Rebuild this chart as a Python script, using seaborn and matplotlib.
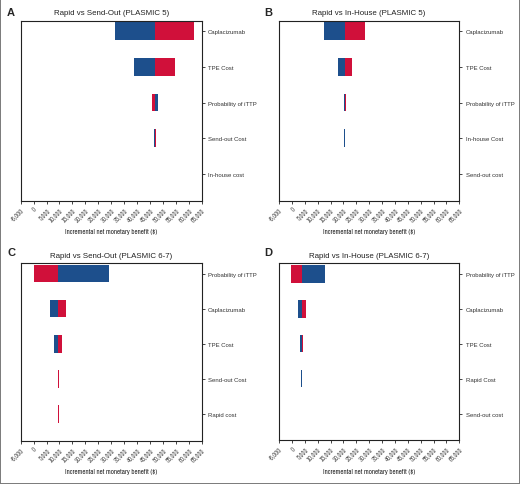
import matplotlib
matplotlib.use("Agg")
import matplotlib.pyplot as plt
import seaborn as sns
import pandas as pd
from matplotlib.patches import Rectangle

sns.set_style("white")
plt.rcParams['font.family'] = ['Liberation Sans', 'DejaVu Sans']
NARROW = ['Archivo Narrow', 'Roboto Condensed', 'Liberation Sans', 'DejaVu Sans']

BLUE = "#1d4f8c"
RED = "#d0103a"

xticks = list(range(-5000, 65001, 5000))
xtick_labels = [f"{v:,}" for v in xticks]
xlabel = "Incremental net monetary benefit ($)"

a_title = "Rapid vs Send-Out (PLASMIC 5)"
a_cats = ["Caplacizumab", "TPE Cost", "Probability of iTTP", "Send-out Cost", "In-house cost"]
a_base = 47000
a_blue = [31500, 39000, 48000, 46700, 47000]
a_red = [62200, 54800, 45600, 47300, 47000]

b_title = "Rapid vs In-House (PLASMIC 5)"
b_cats = ["Caplacizumab", "TPE Cost", "Probability of iTTP", "In-house Cost", "Send-out cost"]
b_base = 20500
b_blue = [12600, 17900, 20100, 20300, 20500]
b_red = [28400, 23200, 21100, 20700, 20500]

c_title = "Rapid vs Send-Out (PLASMIC 6-7)"
c_cats = ["Probability of iTTP", "Caplacizumab", "TPE Cost", "Send-out Cost", "Rapid cost"]
c_base = 9600
c_blue = [29300, 6300, 7800, 9400, 9400]
c_red = [0, 12650, 11100, 9800, 9800]

d_title = "Rapid vs In-House (PLASMIC 6-7)"
d_cats = ["Probability of iTTP", "Caplacizumab", "TPE Cost", "Rapid Cost", "Send-out cost"]
d_base = 3900
d_blue = [12900, 2250, 3300, 3700, 3900]
d_red = [-500, 5500, 4450, 4100, 3900]

fig = plt.figure(figsize=(5.2, 4.85), dpi=100)

W, H = 520.0, 485.0
def axes_px(x0, y0, x1, y1):
    return fig.add_axes([x0 / W, 1 - y1 / H, (x1 - x0) / W, (y1 - y0) / H])

panels = [
    ("A", a_title, a_cats, a_base, a_blue, a_red, (20.7, 21.7, 201.7, 201.7), (7, 13)),
    ("B", b_title, b_cats, b_base, b_blue, b_red, (279.0, 21.7, 459.3, 201.7), (264, 13)),
    ("C", c_title, c_cats, c_base, c_blue, c_red, (20.7, 264.0, 201.7, 441.7), (7, 253)),
    ("D", d_title, d_cats, d_base, d_blue, d_red, (279.0, 264.3, 459.3, 441.3), (264, 253)),
]

for letter, title, cats, base, blue, red, box, lpos in panels:
    ax = axes_px(*box)
    for ends, col in ((blue, BLUE), (red, RED)):
        lefts = [min(base, e) for e in ends]
        widths = [abs(e - base) for e in ends]
        df = pd.DataFrame({"cat": cats, "w": widths})
        sns.barplot(data=df, x="w", y="cat", order=cats, left=lefts, color=col,
                    saturation=1, width=0.5, errorbar=None, orient="y",
                    linewidth=0, ax=ax)
    ax.set_xlim(-5000, 65000)
    ax.set_xticks(xticks)
    ax.set_xticklabels(xtick_labels, rotation=45, ha="right", rotation_mode="anchor",
                       fontsize=4.7, color="#444444", family=NARROW)
    ax.set_ylim(4.76, -0.3)
    ax.yaxis.tick_right()
    ax.tick_params(axis="y", labelsize=4.3, length=2.2, width=0.6, pad=2.5,
                   right=True, left=False, labelcolor="#333333")
    ax.tick_params(axis="x", length=2.2, width=0.6, pad=1.5, bottom=True)
    ax.set_ylabel("")
    ax.set_xlabel(xlabel, fontsize=5.0, labelpad=4.5, color="#222222", family=NARROW)
    for s in ax.spines.values():
        s.set_visible(True)
        s.set_color("#222222")
        s.set_linewidth(0.8)
    ax.set_title(title, fontsize=5.7, pad=4.5, color="#222222")
    fig.text(lpos[0] / W, 1 - lpos[1] / H, letter, fontsize=8, fontweight="bold",
             va="center", ha="left", family=["Liberation Sans", "DejaVu Sans"])

fig.patches.append(Rectangle((0, 0), 1, 1, transform=fig.transFigure, fill=False,
                             edgecolor="#7a7a7a", linewidth=1.4))

fig.savefig("out.png", dpi=100)
